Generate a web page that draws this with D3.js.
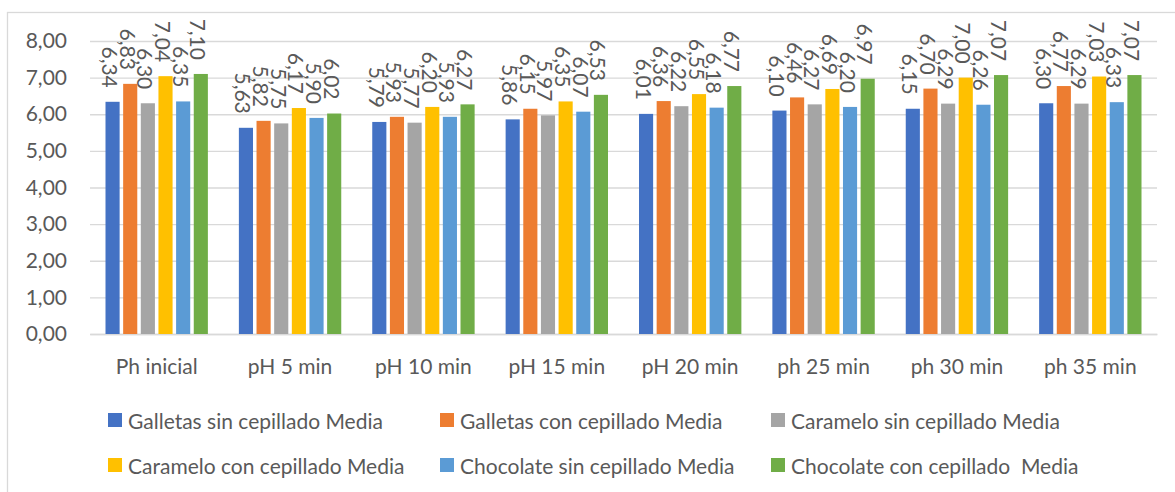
<!DOCTYPE html>
<html>
<head>
<meta charset="utf-8">
<script src="https://cdn.jsdelivr.net/npm/d3@7"></script>
<style>
  html, body { margin: 0; padding: 0; background: #fff; }
  svg { display: block; }
  text { font-family: Lato, "Open Sans", sans-serif; fill: #595959; }
</style>
</head>
<body>
<svg id="chart" width="1175" height="492"></svg>
<script>
const categories = ["Ph inicial", "pH 5 min", "pH 10 min", "pH 15 min", "pH 20 min", "ph 25 min", "ph 30 min", "ph 35 min"];
const seriesNames = [
  "Galletas sin cepillado Media",
  "Galletas con cepillado Media",
  "Caramelo sin cepillado Media",
  "Caramelo con cepillado Media",
  "Chocolate sin cepillado Media",
  "Chocolate con cepillado  Media"
];
const galletasSin   = [6.34, 5.63, 5.79, 5.86, 6.01, 6.10, 6.15, 6.30];
const galletasCon   = [6.83, 5.82, 5.93, 6.15, 6.36, 6.46, 6.70, 6.77];
const carameloSin   = [6.30, 5.75, 5.77, 5.97, 6.22, 6.27, 6.29, 6.29];
const carameloCon   = [7.04, 6.17, 6.20, 6.35, 6.55, 6.69, 7.00, 7.03];
const chocolateSin  = [6.35, 5.90, 5.93, 6.07, 6.18, 6.20, 6.26, 6.33];
const chocolateCon  = [7.10, 6.02, 6.27, 6.53, 6.77, 6.97, 7.07, 7.07];
const yTicks = [0, 1, 2, 3, 4, 5, 6, 7, 8];
const colors = ["#4472C4", "#ED7D31", "#A5A5A5", "#FFC000", "#5B9BD5", "#70AD47"];

const seriesValues = [galletasSin, galletasCon, carameloSin, carameloCon, chocolateSin, chocolateCon];

const FS = 21;
const svg = d3.select("#chart");
const loc = d3.formatLocale({decimal: ",", thousands: ".", grouping: [3], currency: ["", ""]});
const fmt = loc.format(".2f");

const plot = {left: 90, right: 1157, top: 41, bottom: 334};
const x0 = d3.scaleBand().domain(categories).range([plot.left, plot.right]).padding(0);
const x1 = d3.scaleBand().domain(d3.range(seriesNames.length))
  .range([15.5, x0.bandwidth() - 15.5]).paddingInner(0.2);
const y = d3.scaleLinear().domain([0, 8]).range([plot.bottom, plot.top]);

// frame
svg.append("rect").attr("x", 7.5).attr("y", 12.5).attr("width", 1200).attr("height", 600)
  .attr("fill", "none").attr("stroke", "#d9d9d9").attr("stroke-width", 1.3);

// gridlines
const yAxis = d3.axisLeft(y).tickValues(yTicks).tickFormat(fmt).tickSize(-(plot.right - plot.left)).tickPadding(23);
const gAxis = svg.append("g").attr("transform", `translate(${plot.left},0)`).call(yAxis);
gAxis.select(".domain").remove();
gAxis.selectAll(".tick line").attr("stroke", "#d9d9d9").attr("stroke-width", 1.3);
gAxis.selectAll(".tick text").attr("font-size", FS).attr("fill", "#595959");

// category axis
const xAxis = d3.axisBottom(x0).tickSize(0).tickPadding(25);
const gx = svg.append("g").attr("transform", `translate(0,${plot.bottom})`).call(xAxis);
gx.select(".domain").attr("stroke", "#d9d9d9").attr("stroke-width", 1.5);
gx.selectAll(".tick text").attr("font-size", FS).attr("fill", "#595959");

// bars
const groups = svg.append("g").selectAll("g").data(categories).join("g")
  .attr("transform", d => `translate(${x0(d)},0)`);

groups.selectAll("rect")
  .data((c, i) => seriesValues.map((vals, s) => ({s, v: vals[i]})))
  .join("rect")
  .attr("x", d => x1(d.s))
  .attr("width", x1.bandwidth())
  .attr("y", d => y(d.v))
  .attr("height", d => y(0) - y(d.v))
  .attr("fill", d => colors[d.s]);

groups.selectAll("text.lbl")
  .data((c, i) => seriesValues.map((vals, s) => ({s, v: vals[i]})))
  .join("text")
  .attr("class", "lbl")
  .attr("font-size", FS)
  .attr("text-anchor", "end")
  .attr("dominant-baseline", "central")
  .attr("transform", d => `translate(${x1(d.s) + x1.bandwidth() / 2 - 2},${y(d.v) - 14}) rotate(90)`)
  .text(d => fmt(d.v));

// legend
const legCols = [108, 440, 771];
const legRows = [420, 465];
const leg = svg.append("g").selectAll("g").data(seriesNames).join("g")
  .attr("transform", (d, i) => `translate(${legCols[i % 3]},${legRows[Math.floor(i / 3)]})`);
leg.append("rect").attr("x", 0).attr("y", -7).attr("width", 14).attr("height", 14)
  .attr("fill", (d, i) => colors[i]);
leg.append("text").attr("x", 20).attr("y", 0).attr("dominant-baseline", "central")
  .attr("font-size", FS).text(d => d).style("white-space", "pre");
</script>
</body>
</html>
